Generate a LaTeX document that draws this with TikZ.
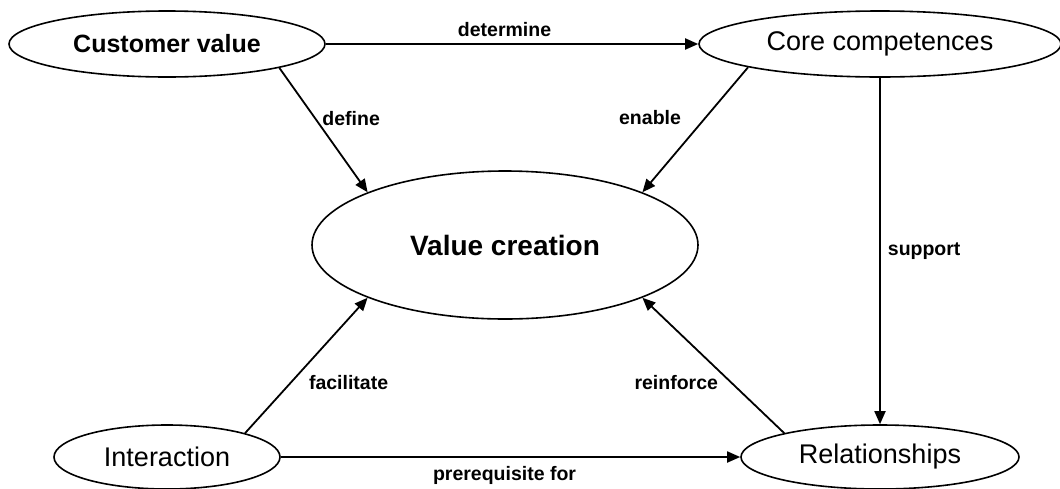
\documentclass[tikz,border=0pt]{standalone}
\usepackage{fontspec}
\setmainfont{Liberation Sans}
\usetikzlibrary{shapes.geometric,arrows.meta}

\begin{document}
\begin{tikzpicture}[x=1pt,y=-1pt,
  bubble/.style={draw,ellipse,line width=1.6pt,inner sep=0pt},
  big/.style={font=\fontsize{27}{32}\selectfont},
  link/.style={line width=1.8pt,-{Triangle[length=13pt,width=11pt]}},
  verb/.style={font=\fontsize{19.5}{23}\selectfont\bfseries,inner sep=2pt}]
\useasboundingbox (0,0) rectangle (1060,488);
\node [bubble,minimum width=316pt,minimum height=66pt,font=\fontsize{25}{30}\selectfont\bfseries] (cv) at (167,44) {Customer value};
\node [bubble,big,minimum width=362pt,minimum height=66pt] (cc) at (880,44) {Core competences};
\node [bubble,minimum width=386pt,minimum height=148pt,font=\fontsize{28}{33}\selectfont\bfseries] (vc) at (505,245) {Value creation};
\node [bubble,big,minimum width=226pt,minimum height=64pt] (int) at (167,457) {Interaction};
\node [bubble,big,minimum width=278pt,minimum height=64pt] (rel) at (880,457) {Relationships};

\draw [link] (cv.east) -- node[verb,above=4pt,pos=0.48] {determine} (cc.west);
\draw [link] (cv.-12) -- node[verb,right=4pt,pos=0.41] {define} (vc.159);
\draw [link] (cc.-170) -- node[verb,left=22pt,pos=0.4] {enable} (vc.21);
\draw [link] (cc.south) -- node[verb,right=5pt,midway] {support} (rel.north);
\draw [link] (int.17) -- node[verb,right=15pt,pos=0.376] {facilitate} (vc.-159);
\draw [link] (rel.166) -- node[verb,left=10pt,pos=0.376] {reinforce} (vc.-21);
\draw [link] (int.east) -- node[verb,below=6pt,pos=0.487] {prerequisite for} (rel.west);

\end{tikzpicture}
\end{document}
